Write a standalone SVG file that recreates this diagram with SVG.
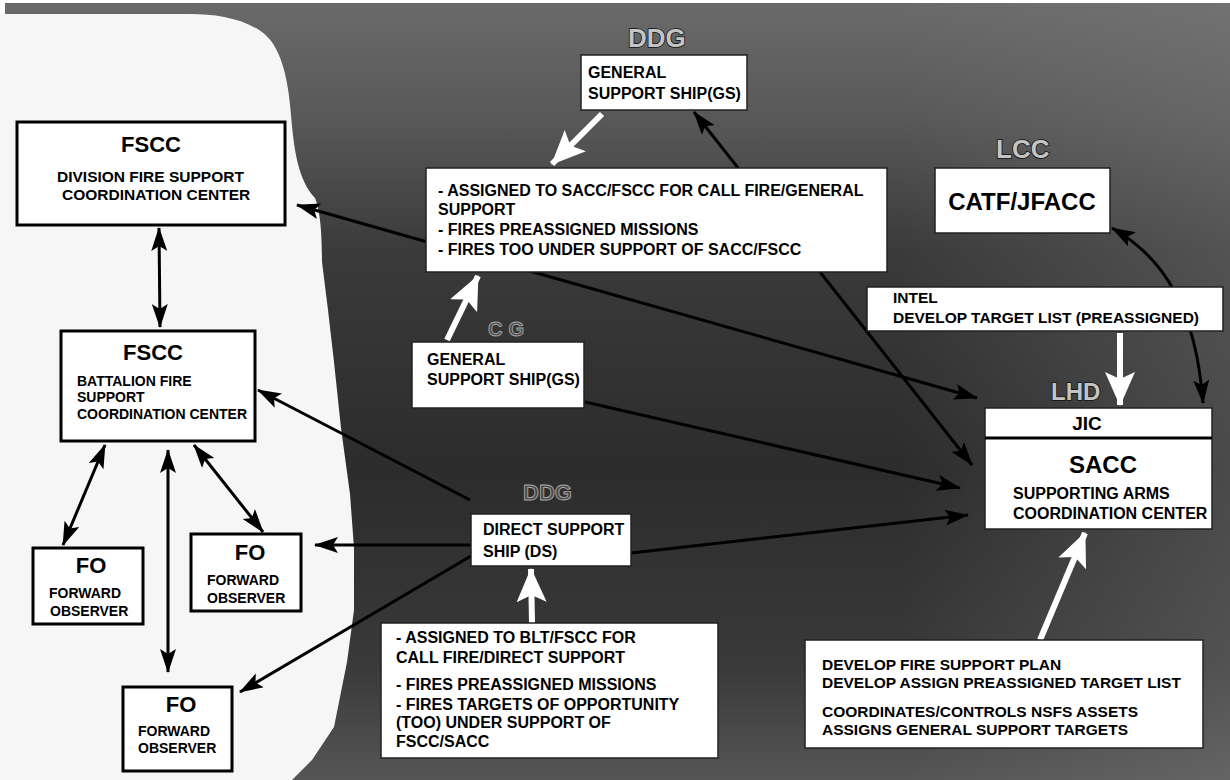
<svg xmlns="http://www.w3.org/2000/svg" width="1230" height="780" viewBox="0 0 1230 780">
<style>
.t{font-family:"Liberation Sans",Arial,Helvetica,sans-serif;font-weight:bold;fill:#000}
.ship{font-family:"Liberation Sans",Arial,sans-serif;font-weight:bold;font-size:26px;fill:#c4c4c4;stroke:#111;stroke-width:1.6;paint-order:stroke}
.faint{font-family:"Liberation Sans",Arial,sans-serif;font-weight:bold;fill:#4a4a4a;stroke:#a8a8a8;stroke-width:0.9}
.lbox{fill:#fff;stroke:#000;stroke-width:3}
.sbox{fill:#fff;stroke:#222;stroke-width:1.5}
.bl{fill:none;stroke:#000;stroke-width:3}
.wl{fill:none;stroke:#fff;stroke-width:6}
</style>
<defs>
<marker id="ah" viewBox="0 0 24 16" refX="23" refY="8" markerWidth="24" markerHeight="16" orient="auto-start-reverse" markerUnits="userSpaceOnUse"><path d="M0,0 L24,8 L0,16 L5,8 z" fill="#000"/></marker>
<marker id="wh" viewBox="0 0 34 30" refX="33" refY="15" markerWidth="34" markerHeight="30" orient="auto" markerUnits="userSpaceOnUse"><path d="M0,0 L34,15 L0,30 L7,15 z" fill="#fff"/></marker>
<linearGradient id="sea" x1="0" y1="0" x2="0" y2="1">
<stop offset="0" stop-color="#6a6a6a"/>
<stop offset="0.15" stop-color="#585858"/>
<stop offset="0.32" stop-color="#3a3a3a"/>
<stop offset="0.6" stop-color="#2c2c2c"/>
<stop offset="0.85" stop-color="#393939"/>
<stop offset="1" stop-color="#555"/>
</linearGradient>
<linearGradient id="seaR" x1="0" y1="0" x2="1" y2="0">
<stop offset="0" stop-color="#808080" stop-opacity="0"/>
<stop offset="1" stop-color="#808080" stop-opacity="0.35"/>
</linearGradient>
</defs>

<g id="background">
<rect x="0" y="0" width="1230" height="780" fill="#fff"/>
<rect x="5" y="3" width="1225" height="777" fill="url(#sea)"/>
<rect x="900" y="3" width="330" height="777" fill="url(#seaR)"/>
<path d="M0,14 L190,14 C215,14 242,18 262,32 C280,45 288,75 291,115 C294,150 298,180 315,198 C321,212 322,240 322,262 L328,310 L334,362 L341,428 L350,494 L354,548 L354,610 L347,662 L334,727 L312,760 L292,780 L0,780 Z" fill="#f6f6f6"/>
</g>

<g id="ship-labels">
<text class="ship" x="628" y="47">DDG</text>
<text class="ship" x="996" y="158">LCC</text>
<text class="ship" x="1051" y="400" style="font-size:24px">LHD</text>
<text class="faint" x="488" y="336" style="font-size:20px;letter-spacing:6px">CG</text>
<text class="faint" x="523" y="500" style="font-size:22px">DDG</text>
</g>

<g id="connectors">
<line class="bl" x1="159" y1="228" x2="160" y2="327" marker-start="url(#ah)" marker-end="url(#ah)"/>
<line class="bl" x1="297" y1="205" x2="977" y2="398" marker-start="url(#ah)" marker-end="url(#ah)"/>
<line class="bl" x1="694" y1="112" x2="972" y2="465" marker-start="url(#ah)" marker-end="url(#ah)"/>
<line class="bl" x1="585" y1="402" x2="960" y2="488" marker-end="url(#ah)"/>
<line class="bl" x1="631" y1="553" x2="968" y2="515" marker-end="url(#ah)"/>
<line class="bl" x1="470" y1="500" x2="258" y2="390" marker-end="url(#ah)"/>
<line class="bl" x1="105" y1="445" x2="63" y2="545" marker-start="url(#ah)" marker-end="url(#ah)"/>
<line class="bl" x1="168" y1="450" x2="168" y2="672" marker-start="url(#ah)" marker-end="url(#ah)"/>
<line class="bl" x1="194" y1="445" x2="263" y2="532" marker-start="url(#ah)" marker-end="url(#ah)"/>
<line class="bl" x1="471" y1="545" x2="315" y2="545" marker-end="url(#ah)"/>
<line class="bl" x1="471" y1="556" x2="240" y2="692" marker-end="url(#ah)"/>
<path class="bl" d="M1203,403 C1196,310 1165,258 1112,228" marker-start="url(#ah)" marker-end="url(#ah)"/>
<line class="wl" x1="602" y1="114" x2="552" y2="164" marker-end="url(#wh)"/>
<line class="wl" x1="447" y1="340" x2="478" y2="276" marker-end="url(#wh)"/>
<line class="wl" x1="1120" y1="333" x2="1120" y2="405" marker-end="url(#wh)"/>
<line class="wl" x1="1040" y1="640" x2="1085" y2="533" marker-end="url(#wh)"/>
<line class="wl" x1="532" y1="623" x2="531" y2="569" marker-end="url(#wh)"/>
</g>

<g id="division-fscc">
<rect class="lbox" x="17" y="122" width="268" height="103"/>
<text class="t" x="151" y="152" text-anchor="middle" font-size="22">FSCC</text>
<text class="t" x="57" y="182" font-size="15.5">DIVISION FIRE SUPPORT</text>
<text class="t" x="62" y="200" font-size="15.5">COORDINATION CENTER</text>
</g>

<g id="battalion-fscc">
<rect class="lbox" x="61" y="331" width="194" height="110"/>
<text class="t" x="153" y="360" text-anchor="middle" font-size="22">FSCC</text>
<text class="t" x="77" y="386" font-size="14">BATTALION FIRE</text>
<text class="t" x="77" y="402" font-size="14">SUPPORT</text>
<text class="t" x="77" y="419" font-size="14">COORDINATION CENTER</text>
</g>

<g id="fo-left">
<rect class="lbox" x="33" y="548" width="110" height="76"/>
<text class="t" x="91" y="573" text-anchor="middle" font-size="22">FO</text>
<text class="t" x="49" y="598" font-size="14">FORWARD</text>
<text class="t" x="50" y="616" font-size="14">OBSERVER</text>
</g>

<g id="fo-middle">
<rect class="lbox" x="191" y="534" width="110" height="77"/>
<text class="t" x="250" y="560" text-anchor="middle" font-size="22">FO</text>
<text class="t" x="207" y="585" font-size="14">FORWARD</text>
<text class="t" x="207" y="603" font-size="14">OBSERVER</text>
</g>

<g id="fo-bottom">
<rect class="lbox" x="123" y="687" width="109" height="84"/>
<text class="t" x="181" y="712" text-anchor="middle" font-size="22">FO</text>
<text class="t" x="138" y="736" font-size="14">FORWARD</text>
<text class="t" x="138" y="753" font-size="14">OBSERVER</text>
</g>

<g id="gs-ship-top">
<rect class="sbox" x="581" y="55" width="166" height="55"/>
<text class="t" x="588" y="78" font-size="16">GENERAL</text>
<text class="t" x="588" y="99" font-size="16">SUPPORT SHIP(GS)</text>
</g>

<g id="gs-tasks">
<rect class="sbox" x="426" y="168" width="461" height="104"/>
<text class="t" x="438" y="196" font-size="16">- ASSIGNED TO SACC/FSCC FOR CALL FIRE/GENERAL</text>
<text class="t" x="438" y="215" font-size="16">SUPPORT</text>
<text class="t" x="438" y="235" font-size="16">- FIRES PREASSIGNED MISSIONS</text>
<text class="t" x="438" y="255" font-size="16">- FIRES TOO UNDER SUPPORT OF SACC/FSCC</text>
</g>

<g id="catf">
<rect class="sbox" x="935" y="168" width="175" height="65"/>
<text class="t" x="1022" y="210" text-anchor="middle" font-size="24">CATF/JFACC</text>
</g>

<g id="intel">
<rect class="sbox" x="867" y="287" width="356" height="44"/>
<text class="t" x="893" y="303" font-size="15.5">INTEL</text>
<text class="t" x="893" y="323" font-size="15.5">DEVELOP TARGET LIST (PREASSIGNED)</text>
</g>

<g id="gs-ship-lower">
<rect class="sbox" x="412" y="342" width="172" height="66"/>
<text class="t" x="427" y="365" font-size="16">GENERAL</text>
<text class="t" x="427" y="385" font-size="16">SUPPORT SHIP(GS)</text>
</g>

<g id="sacc">
<rect class="sbox" x="985" y="408" width="227" height="121"/>
<line x1="985" y1="438" x2="1212" y2="438" stroke="#000" stroke-width="3"/>
<text class="t" x="1087" y="430" text-anchor="middle" font-size="19">JIC</text>
<text class="t" x="1103" y="473" text-anchor="middle" font-size="24">SACC</text>
<text class="t" x="1013" y="499" font-size="16">SUPPORTING ARMS</text>
<text class="t" x="1013" y="519" font-size="16">COORDINATION CENTER</text>
</g>

<g id="ds-ship">
<rect class="sbox" x="471" y="514" width="160" height="52"/>
<text class="t" x="483" y="535" font-size="16">DIRECT SUPPORT</text>
<text class="t" x="483" y="557" font-size="16">SHIP (DS)</text>
</g>

<g id="ds-tasks">
<rect class="sbox" x="381" y="623" width="337" height="135"/>
<text class="t" x="396" y="643" font-size="16">- ASSIGNED TO BLT/FSCC FOR</text>
<text class="t" x="396" y="663" font-size="16">CALL FIRE/DIRECT SUPPORT</text>
<text class="t" x="396" y="690" font-size="16">- FIRES PREASSIGNED MISSIONS</text>
<text class="t" x="396" y="710" font-size="16">- FIRES TARGETS OF OPPORTUNITY</text>
<text class="t" x="396" y="728" font-size="16">(TOO) UNDER SUPPORT OF</text>
<text class="t" x="396" y="747" font-size="16">FSCC/SACC</text>
</g>

<g id="sacc-tasks">
<rect class="sbox" x="805" y="640" width="398" height="108"/>
<text class="t" x="822" y="670" font-size="15.5">DEVELOP FIRE SUPPORT PLAN</text>
<text class="t" x="822" y="688" font-size="15.5">DEVELOP ASSIGN PREASSIGNED TARGET LIST</text>
<text class="t" x="822" y="717" font-size="15.5">COORDINATES/CONTROLS NSFS ASSETS</text>
<text class="t" x="822" y="735" font-size="15.5">ASSIGNS GENERAL SUPPORT TARGETS</text>
</g>
</svg>
